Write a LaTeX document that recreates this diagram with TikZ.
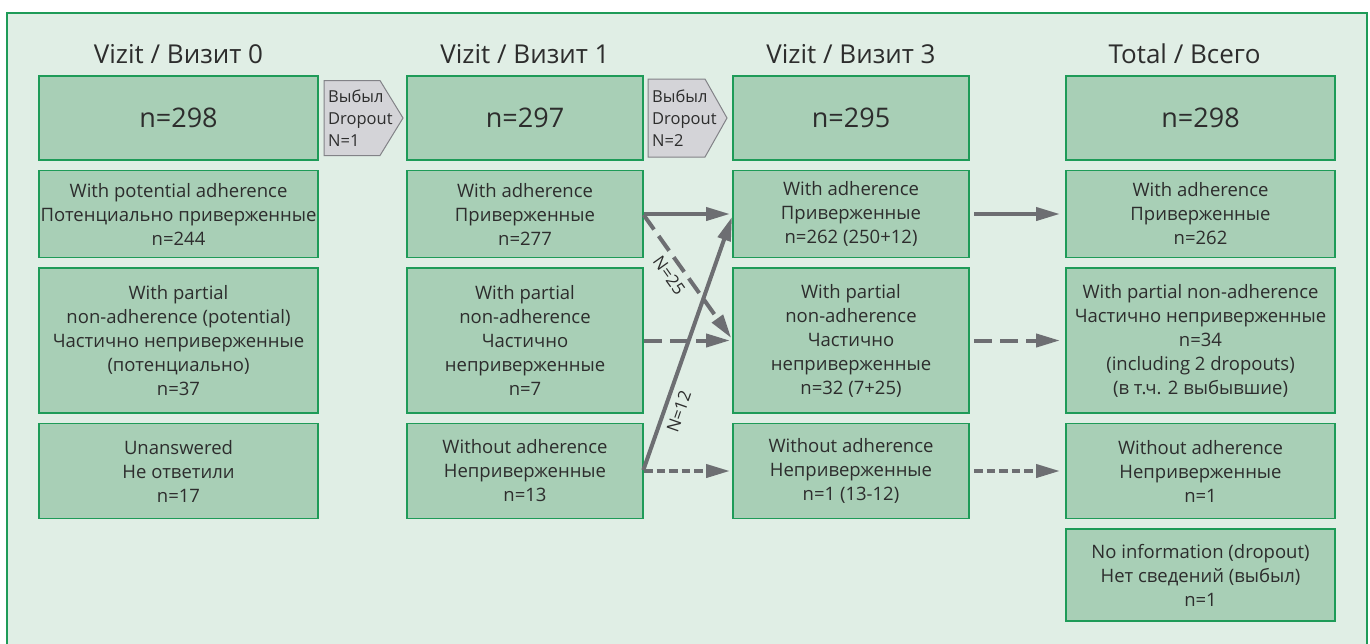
\documentclass[tikz,border=0pt]{standalone}
\usepackage{fontspec}
\setmainfont{Open Sans}
\usetikzlibrary{arrows.meta,positioning}

\definecolor{bggreen}{RGB}{224,238,229}
\definecolor{boxgreen}{RGB}{168,207,182}
\definecolor{edgegreen}{RGB}{30,155,88}
\definecolor{arrowgray}{RGB}{109,110,114}
\definecolor{dropgray}{RGB}{212,212,216}
\definecolor{dropedge}{RGB}{130,130,135}
\definecolor{textgray}{RGB}{45,45,45}

\tikzset{
  cell/.style={draw=edgegreen, fill=boxgreen, line width=1.5pt, text=textgray,
    align=center, inner sep=0pt, outer sep=0pt, font=\fontsize{18.5}{24}\selectfont},
  wide/.style={cell, minimum width=279pt},
  slim/.style={cell, minimum width=236pt},
  total/.style={cell, minimum width=269pt},
  topcell/.style={minimum height=84pt, font=\fontsize{27}{32}\selectfont},
  heading/.style={text=textgray, inner sep=0pt, anchor=base, font=\fontsize{26}{32}\selectfont},
  dropshape/.style={fill=dropgray, draw=dropedge, line width=1pt},
  dropnote/.style={anchor=west, align=left, inner sep=0pt, text=textgray, font=\fontsize{16.5}{22}\selectfont},
  flow/.style={draw=arrowgray, line width=4pt, -{Triangle[length=24pt,width=13pt]}},
  dashflow/.style={flow, dash pattern=on 18pt off 8pt},
  dotflow/.style={flow, dash pattern=on 8.5pt off 4pt},
  nlabel/.style={text=textgray, font=\fontsize{17}{22}\selectfont, inner sep=1pt, sloped}
}

\begin{document}
\begin{tikzpicture}[x=1pt,y=-1pt,node distance=10.5pt]
\useasboundingbox (0,0) rectangle (1370,643);
\clip (0,0) rectangle (1370,643);
\draw[fill=bggreen, draw=edgegreen, line width=1.2pt] (7,13) rectangle (1367,660);

% Vizit 0
\node[wide, topcell, anchor=north west] (h0) at (39,76) {n=298};
\node[wide, minimum height=87pt, below=of h0] (a0) {With potential adherence\\Потенциально приверженные\\n=244};
\node[wide, minimum height=145pt, below=of a0] (p0) {With partial\\non-adherence (potential)\\Частично неприверженные\\(потенциально)\\n=37};
\node[wide, minimum height=95pt, below=of p0] (u0) {Unanswered\\Не ответили\\n=17};
\node[heading] (t0) at ([yshift=13pt]h0.north) {Vizit / Визит 0};

% Vizit 1
\node[slim, topcell, anchor=north west] (h1) at (407,76) {n=297};
\node[slim, minimum height=87pt, below=of h1] (a1) {With adherence\\Приверженные\\n=277};
\node[slim, minimum height=145pt, below=of a1] (p1) {With partial\\non-adherence\\Частично\\неприверженные\\n=7};
\node[slim, minimum height=95pt, below=of p1] (w1) {Without adherence\\Неприверженные\\n=13};
\node[heading] (t1) at ([yshift=13pt]h1.north) {Vizit / Визит 1};

% Vizit 3
\node[slim, topcell, anchor=north west] (h3) at (733,76) {n=295};
\node[slim, minimum height=87pt, below=of h3] (a3) {With adherence\\Приверженные\\n=262 (250+12)};
\node[slim, minimum height=145pt, below=of a3] (p3) {With partial\\non-adherence\\Частично\\неприверженные\\n=32 (7+25)};
\node[slim, minimum height=95pt, below=of p3] (w3) {Without adherence\\Неприверженные\\n=1 (13-12)};
\node[heading] (t3) at ([yshift=13pt]h3.north) {Vizit / Визит 3};

% Total
\node[total, topcell, anchor=north west] (ht) at (1066,76) {n=298};
\node[total, minimum height=87pt, below=of ht] (at) {With adherence\\Приверженные\\n=262};
\node[total, minimum height=145pt, below=of at] (pt) {With partial non-adherence\\Частично неприверженные\\n=34\\(including 2 dropouts)\\(в т.ч. 2 выбывшие)};
\node[total, minimum height=95pt, below=of pt] (wt) {Without adherence\\Неприверженные\\n=1};
\node[total, minimum height=92pt, below=of wt] (it) {No information (dropout)\\Нет сведений (выбыл)\\n=1};
\node[heading] (tt) at ([xshift=-16pt,yshift=13pt]ht.north) {Total / Всего};

% dropouts
\coordinate (D1) at ([xshift=6pt]h0.east);
\draw[dropshape] ([yshift=37.5pt]D1) -- ++(56,0) -- ++(23,37.5) -- ++(-23,37.5) -- ++(-56,0) -- cycle;
\node[dropnote] (d1) at ([xshift=4pt]D1) {Выбыл\\Dropout\\N=1};
\coordinate (D2) at ([xshift=5pt]h1.east);
\draw[dropshape] ([yshift=39pt]D2) -- ++(57,0) -- ++(22,39) -- ++(-22,39) -- ++(-57,0) -- cycle;
\node[dropnote] (d2) at ([xshift=4pt]D2) {Выбыл\\Dropout\\N=2};

% transitions 1 -> 3
\draw[flow, shorten <=1pt, shorten >=3pt] (a1.east) -- (a3.west);
\draw[dashflow, shorten <=1pt, shorten >=3pt] (a1.east) -- node[nlabel, below=5pt, pos=0.42] (n25) {N=25} (p3.west);
\draw[dashflow, shorten <=1pt, shorten >=3pt] (p1.east) -- (p3.west);
\draw[dotflow, shorten <=1pt, shorten >=3pt] (w1.east) -- (w3.west);
\draw[flow, shorten <=1pt, shorten >=3pt] (w1.east) -- node[nlabel, below=5pt, pos=0.25] (n12) {N=12} (a3.west);

% transitions 3 -> total
\draw[flow, shorten <=5pt, shorten >=6pt] (a3.east) -- (at.west);
\draw[dashflow, shorten <=5pt, shorten >=6pt] (p3.east) -- (pt.west);
\draw[dotflow, shorten <=5pt, shorten >=6pt] (w3.east) -- (wt.west);
\end{tikzpicture}
\end{document}
